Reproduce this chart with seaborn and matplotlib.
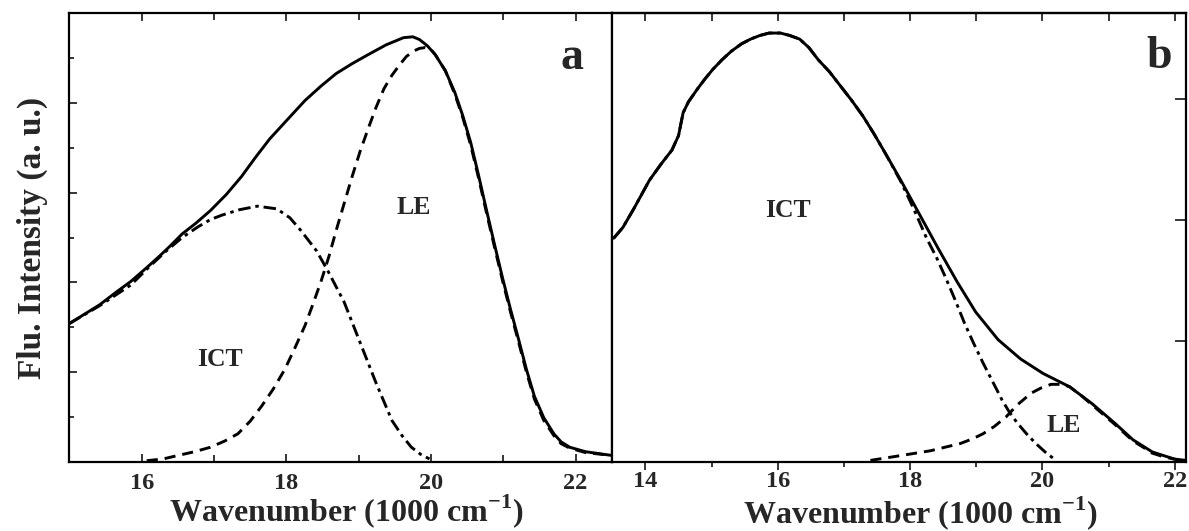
import numpy as np
import pandas as pd
import matplotlib
matplotlib.use("Agg")
import matplotlib.pyplot as plt
import seaborn as sns
from matplotlib.ticker import MultipleLocator, NullFormatter

# ---- Panel a: total emission and its two deconvoluted bands ----
a_total_x = [15.00, 15.20, 15.42, 15.63, 15.85, 16.05, 16.23, 16.40, 16.56, 16.75, 16.95,
             17.17, 17.38, 17.57, 17.77, 18.02, 18.26, 18.48, 18.69, 18.91, 19.13, 19.38,
             19.62, 19.75, 19.84, 19.95, 20.06, 20.20, 20.33, 20.44, 20.55, 20.66, 20.77,
             20.88, 20.99, 21.10, 21.21, 21.32, 21.43, 21.56, 21.70, 21.80, 21.92, 22.14, 22.49]
a_total_y = [1.54, 1.64, 1.75, 1.88, 2.01, 2.15, 2.28, 2.41, 2.54, 2.66, 2.80,
             2.98, 3.18, 3.39, 3.60, 3.82, 4.03, 4.19, 4.33, 4.44, 4.54, 4.65,
             4.73, 4.74, 4.71, 4.64, 4.54, 4.36, 4.12, 3.86, 3.56, 3.19, 2.80,
             2.42, 2.05, 1.70, 1.37, 1.03, 0.73, 0.49, 0.31, 0.22, 0.16, 0.11, 0.07]

a_ict_x = [15.00, 15.42, 15.85, 16.10, 16.34, 16.56, 16.78, 16.95, 17.11, 17.35, 17.60,
           17.87, 18.05, 18.20, 18.42, 18.58, 18.80, 19.02, 19.24, 19.46, 19.60, 19.73,
           19.86, 19.98]
a_ict_y = [1.54, 1.74, 1.97, 2.17, 2.35, 2.50, 2.62, 2.70, 2.75, 2.81, 2.85,
           2.82, 2.72, 2.58, 2.35, 2.12, 1.78, 1.33, 0.88, 0.46, 0.29, 0.16,
           0.08, 0.03]

a_le_x = [16.07, 16.30, 16.51, 16.73, 16.95, 17.15, 17.33, 17.50, 17.66, 17.82, 17.98,
          18.12, 18.26, 18.37, 18.48, 18.59, 18.69, 18.80, 18.91, 19.02, 19.13, 19.24,
          19.35, 19.46, 19.57, 19.66, 19.76, 19.84, 19.92, 20.00, 20.06, 20.20, 20.33,
          20.44, 20.55, 20.66, 20.77, 20.88, 20.99, 21.10, 21.21, 21.32, 21.43, 21.56,
          21.70, 21.80, 21.92, 22.14, 22.49]
a_le_y = [0.01, 0.03, 0.07, 0.11, 0.16, 0.23, 0.31, 0.45, 0.62, 0.81, 1.03,
          1.27, 1.52, 1.76, 2.01, 2.29, 2.58, 2.88, 3.18, 3.46, 3.71, 3.95,
          4.16, 4.31, 4.43, 4.52, 4.58, 4.61, 4.62, 4.60, 4.54, 4.36, 4.10,
          3.84, 3.53, 3.16, 2.77, 2.39, 2.02, 1.67, 1.34, 1.00, 0.70, 0.46,
          0.29, 0.20, 0.15, 0.10, 0.07]

# ---- Panel b: total emission and its two deconvoluted bands ----
b_total_x = [13.52, 13.66, 13.83, 13.95, 14.06, 14.23, 14.40, 14.50, 14.57, 14.65, 14.79,
             14.90, 15.02, 15.16, 15.30, 15.45, 15.59, 15.73, 15.87, 16.04, 16.18, 16.33,
             16.47, 16.61, 16.78, 16.95, 17.12, 17.29, 17.46, 17.63, 17.86, 18.14, 18.42,
             18.71, 18.99, 19.33, 19.67, 20.01, 20.41, 20.75, 21.09, 21.37, 21.66, 22.00, 22.17]
b_total_y = [1.85, 1.94, 2.10, 2.22, 2.33, 2.46, 2.58, 2.70, 2.89, 2.98, 3.09,
             3.17, 3.25, 3.33, 3.40, 3.46, 3.50, 3.53, 3.55, 3.55, 3.53, 3.50,
             3.43, 3.33, 3.23, 3.11, 2.99, 2.86, 2.71, 2.55, 2.33, 2.05, 1.77,
             1.49, 1.24, 1.01, 0.85, 0.73, 0.62, 0.48, 0.32, 0.18, 0.08, 0.02, 0.01]

b_ict_x = [13.52, 13.66, 13.83, 13.95, 14.06, 14.23, 14.40, 14.50, 14.57, 14.65, 14.79,
           14.90, 15.02, 15.16, 15.30, 15.45, 15.59, 15.73, 15.87, 16.04, 16.18, 16.33,
           16.47, 16.61, 16.78, 16.95, 17.12, 17.29, 17.46, 17.63, 17.86, 18.05, 18.25,
           18.40, 18.54, 18.68, 18.82, 18.96, 19.10, 19.25, 19.39, 19.50, 19.62, 19.76,
           19.90, 20.04, 20.18]
b_ict_y = [1.85, 1.94, 2.10, 2.22, 2.33, 2.46, 2.58, 2.70, 2.89, 2.98, 3.09,
           3.17, 3.25, 3.33, 3.40, 3.46, 3.50, 3.53, 3.55, 3.55, 3.53, 3.50,
           3.43, 3.33, 3.23, 3.11, 2.99, 2.86, 2.71, 2.55, 2.32, 2.10, 1.85,
           1.69, 1.52, 1.34, 1.15, 0.98, 0.82, 0.66, 0.51, 0.41, 0.32, 0.23,
           0.15, 0.08, 0.02]

b_le_x = [17.40, 17.86, 18.31, 18.76, 18.95, 19.10, 19.27, 19.45, 19.62, 19.75, 19.84,
          19.98, 20.13, 20.30, 20.41, 20.58, 20.75, 20.92, 21.09, 21.23, 21.37, 21.52,
          21.66, 21.83, 22.00, 22.17]
b_le_y = [0.01, 0.05, 0.09, 0.15, 0.19, 0.23, 0.29, 0.37, 0.47, 0.53, 0.57,
          0.61, 0.64, 0.64, 0.62, 0.55, 0.47, 0.39, 0.31, 0.24, 0.17, 0.12,
          0.07, 0.04, 0.02, 0.01]

panel_letters = ["a", "b"]
band_names = ["ICT", "LE"]
x_label = "Wavenumber (1000 cm$^{\\mathbf{-1}}$)"
y_label = "Flu. Intensity (a. u.)"

sns.set_theme(style="white")
plt.rcParams["font.family"] = ["Liberation Serif", "DejaVu Serif"]
plt.rcParams["font.weight"] = "bold"
plt.rcParams["mathtext.fontset"] = "custom"
plt.rcParams["mathtext.rm"] = "Liberation Serif:bold"
plt.rcParams["mathtext.bf"] = "Liberation Serif:bold"
plt.rcParams["lines.scale_dashes"] = False

fig = plt.figure(figsize=(11.89, 5.31), dpi=100)
ax_a = fig.add_axes([0.0583, 0.1307, 0.4562, 0.8439])
ax_b = fig.add_axes([0.5150, 0.1307, 0.4825, 0.8457])

LW = 2.1
DASH = (0, (8, 5))
DASHDOT = (0, (9, 3.5, 2.5, 3.5))


def draw(ax, xs, ys, style):
    df = pd.DataFrame({"x": xs, "y": ys})
    sns.lineplot(data=df, x="x", y="y", ax=ax, color="black", lw=LW,
                 linestyle=style, sort=False, estimator=None)


# panel a
draw(ax_a, a_ict_x, a_ict_y, DASHDOT)
draw(ax_a, a_le_x, a_le_y, DASH)
draw(ax_a, a_total_x, a_total_y, "-")
ax_a.set_xlim(15.0, 22.5)
ax_a.set_ylim(0, 5.0)

# panel b
draw(ax_b, b_ict_x, b_ict_y, DASHDOT)
draw(ax_b, b_le_x, b_le_y, DASH)
draw(ax_b, b_total_x, b_total_y, "-")
ax_b.set_xlim(13.5, 22.17)
ax_b.set_ylim(0, 3.72)

for ax in (ax_a, ax_b):
    for sp in ax.spines.values():
        sp.set_visible(True)
        sp.set_linewidth(1.6)
        sp.set_color("black")
    ax.set_xlabel(x_label, fontsize=23, fontweight="bold", va="baseline")
    ax.set_ylabel("")
    ax.xaxis.set_major_locator(MultipleLocator(2))
    ax.xaxis.set_minor_locator(MultipleLocator(1))
    for lab in ax.get_xticklabels():
        lab.set_fontweight("bold")

ax_a.xaxis.set_label_coords(0.51, -0.134)
ax_b.xaxis.set_label_coords(0.537, -0.137)

# panel a ticks: inward on bottom, top and left
ax_a.tick_params(axis="x", which="both", direction="in", bottom=True, top=True,
                 labelsize=17.5, width=1.3, pad=8)
ax_a.tick_params(axis="x", which="major", length=6)
ax_a.tick_params(axis="x", which="minor", length=5)
ax_a.yaxis.set_major_locator(MultipleLocator(1))
ax_a.yaxis.set_minor_locator(MultipleLocator(0.5))
ax_a.yaxis.set_major_formatter(NullFormatter())
ax_a.tick_params(axis="y", which="both", direction="in", left=True, right=False,
                 width=1.3)
ax_a.tick_params(axis="y", which="major", length=6)
ax_a.tick_params(axis="y", which="minor", length=3.5)
ax_a.set_ylabel(y_label, fontsize=24, fontweight="bold", labelpad=12)

# panel b ticks: outward on bottom, inward on top and right
ax_b.tick_params(axis="x", which="both", direction="out", bottom=True, top=False,
                 labelsize=17.5, width=1.3, pad=1)
ax_b.tick_params(axis="x", which="major", length=6)
ax_b.tick_params(axis="x", which="minor", length=3.5)
ax_b_top = ax_b.secondary_xaxis("top")
ax_b_top.xaxis.set_major_locator(MultipleLocator(1))
ax_b_top.tick_params(axis="x", which="both", direction="in", length=6, width=1.3,
                     labeltop=False)
ax_b_top.spines["top"].set_linewidth(1.6)
ax_b.yaxis.set_major_locator(MultipleLocator(1))
ax_b.yaxis.set_major_formatter(NullFormatter())
ax_b.tick_params(axis="y", which="both", direction="in", left=False, right=True,
                 length=8, width=1.3)

# band labels and panel letters
ax_a.text(19.76, 2.84, band_names[1], fontsize=18.5, fontweight="bold", ha="center", va="center")
ax_a.text(17.08, 1.14, band_names[0], fontsize=18.5, fontweight="bold", ha="center", va="center")
ax_b.text(16.16, 2.08, band_names[0], fontsize=18.5, fontweight="bold", ha="center", va="center")
ax_b.text(20.32, 0.30, band_names[1], fontsize=18.5, fontweight="bold", ha="center", va="center")
ax_a.text(21.95, 4.50, panel_letters[0], fontsize=33, fontweight="bold", ha="center", va="center")
ax_b.text(21.77, 3.35, panel_letters[1], fontsize=33, fontweight="bold", ha="center", va="center")

fig.savefig("out.png", dpi=100)
